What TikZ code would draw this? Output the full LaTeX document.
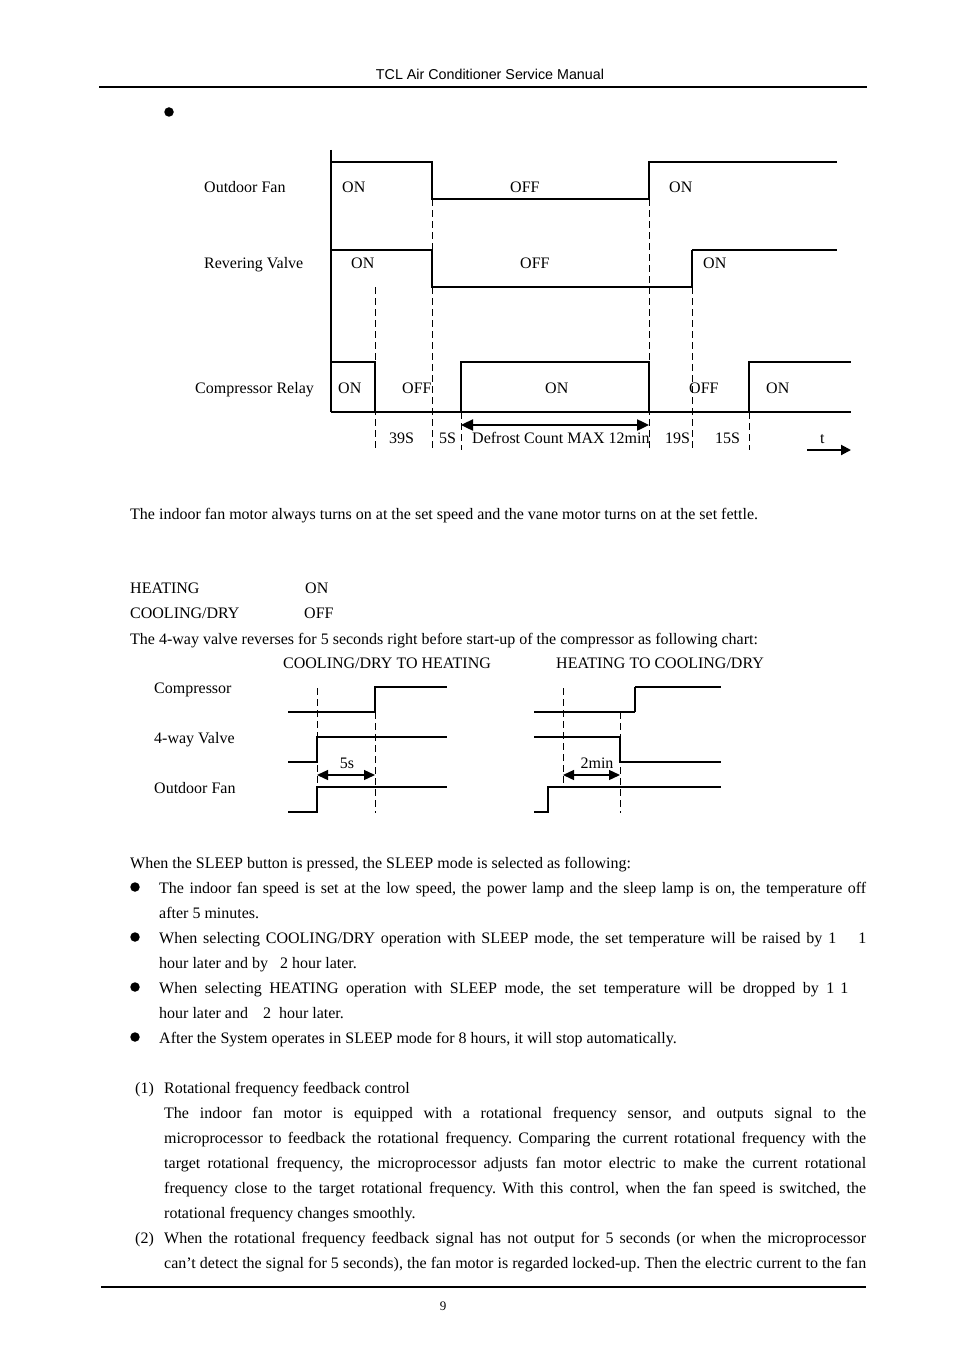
\documentclass[tikz,border=0pt]{standalone}
\usepackage{fontspec}
\setmainfont{Liberation Serif}
\newfontfamily\hdrfont{Liberation Sans}
\usetikzlibrary{arrows.meta}
\frenchspacing
\newcommand\bodyfs{\fontsize{16}{25}\selectfont\frenchspacing}
\tikzset{
  sig/.style={line width=1.1pt},
  sigthick/.style={line width=2pt},
  dsh/.style={line width=0.9pt, dash pattern=on 7pt off 4pt},
  lbl/.style={anchor=base west, inner sep=0pt, font=\bodyfs},
  clbl/.style={anchor=base, inner sep=0pt, font=\bodyfs},
  bigarrow/.style={line width=2.4pt, {Triangle[length=12pt,width=11pt]}-{Triangle[length=12pt,width=11pt]}},
  smallarrow/.style={line width=1.3pt, {Triangle[length=11pt,width=10pt]}-{Triangle[length=11pt,width=10pt]}},
  tarrow/.style={line width=2pt, -{Triangle[length=10pt,width=10pt]}},
  rule/.style={line width=2pt},
  dot/.style={circle, fill=black, inner sep=0pt, minimum size=9.5pt},
}
\begin{document}
\begin{tikzpicture}[x=1pt,y=-1pt]
\fill[white] (0,0) rectangle (954,1351);
\path[use as bounding box] (0,0) rectangle (954,1351);

% header
\node[anchor=base, inner sep=0pt, font=\hdrfont\fontsize{14.3}{16}\selectfont] (hdr) at (490,80) {TCL Air Conditioner Service Manual};
\draw[rule] (99,87) -- (867,87);
\node[dot] (b0) at (169,112) {};

% ===== Diagram 1 =====
\node[lbl] (l1) at (204,193) {Outdoor Fan};
\node[lbl] (l2) at (204,268) {Revering Valve};
\node[lbl] (l3) at (195,393) {Compressor Relay};

% dashed guides
\draw[dsh] (375,287) -- (375,450);
\draw[dsh] (432,199) -- (432,450);
\draw[dsh] (461,412) -- (461,450);
\draw[dsh] (649,199) -- (649,450);
\draw[dsh] (692,287) -- (692,450);
\draw[dsh] (749,412) -- (749,450);

% axis
\draw[sig] (331,150) -- (331,412);
% outdoor fan
\draw[sig] (331,162) -- (432,162) -- (432,199) -- (649,199) -- (649,162) -- (837,162);
% revering valve
\draw[sigthick] (331,250) -- (432,250);
\draw[sig] (432,250) -- (432,287) -- (692,287) -- (692,250);
\draw[sigthick] (692,250) -- (837,250);
% compressor relay
\draw[sig] (331,362) -- (375,362) -- (375,412);
\draw[sig] (331,412) -- (851,412);
\draw[sig] (461,412) -- (461,362) -- (649,362) -- (649,412);
\draw[sig] (749,412) -- (749,362) -- (851,362);

\node[lbl] (f1) at (342,193) {ON};
\node[lbl] (f2) at (510,193) {OFF};
\node[lbl] (f3) at (669,193) {ON};
\node[lbl] (v1) at (351,268) {ON};
\node[lbl] (v2) at (520,268) {OFF};
\node[lbl] (v3) at (703,268) {ON};
\node[lbl] (c1) at (338,393) {ON};
\node[lbl] (c2) at (402,393) {OFF};
\node[lbl] (c3) at (545,393) {ON};
\node[lbl] (c4) at (689,393) {OFF};
\node[lbl] (c5) at (766,393) {ON};

\coordinate (da) at (461,425);
\coordinate (db) at (649,425);
\draw[bigarrow] (da) -- (db);
\node[lbl] (t1) at (389,443) {39S};
\node[lbl] (t2) at (439,443) {5S};
\node[lbl] (t3) at (472,443) {Defrost Count MAX 12min};
\node[lbl] (t4) at (665,443) {19S};
\node[lbl] (t5) at (715,443) {15S};
\node[lbl] (t6) at (820,443) {t};
\coordinate (ta) at (807,450);
\coordinate (tb) at (851,450);
\draw[tarrow] (ta) -- (tb);

% ===== Text =====
\node[lbl] (p1) at (130,519) {The indoor fan motor always turns on at the set speed and the vane motor turns on at the set fettle.};
\node[lbl] (p2) at (130,593) {HEATING};
\node[lbl] (p3) at (305,593) {ON};
\node[lbl] (p4) at (130,618) {COOLING/DRY};
\node[lbl] (p5) at (304,618) {OFF};
\node[lbl] (p6) at (130,644) {The 4-way valve reverses for 5 seconds right before start-up of the compressor as following chart:};

% ===== Diagram 2 =====
\node[lbl] (h1) at (283,668) {COOLING/DRY TO HEATING};
\node[lbl] (h2) at (556,668) {HEATING TO COOLING/DRY};
\node[lbl] (s1) at (154,693) {Compressor};
\node[lbl] (s2) at (154,743) {4-way Valve};
\node[lbl] (s3) at (154,793) {Outdoor Fan};

% left chart
\draw[dsh] (317,688) -- (317,812);
\draw[dsh] (375,712) -- (375,813);
\draw[sig] (288,712) -- (375,712) -- (375,687) -- (447,687);
\draw[sig] (288,762) -- (317,762) -- (317,737) -- (447,737);
\draw[sig] (288,812) -- (317,812) -- (317,787) -- (447,787);
\coordinate (ea) at (317,775);
\coordinate (eb) at (375,775);
\draw[smallarrow] (ea) -- (eb);
\node[clbl] (e5) at (347,768) {5s};

% right chart
\draw[dsh] (563,688) -- (563,787);
\draw[dsh] (620,712) -- (620,813);
\draw[sig] (534,712) -- (635,712);
\draw[sigthick] (635,712) -- (635,687);
\draw[sig] (635,687) -- (721,687);
\draw[sig] (534,737) -- (620,737) -- (620,762) -- (721,762);
\draw[sig] (534,812) -- (548,812) -- (548,787) -- (721,787);
\coordinate (ga) at (563,775);
\coordinate (gb) at (620,775);
\draw[smallarrow] (ga) -- (gb);
\node[clbl] (g2) at (597,768) {2min};

% ===== Sleep =====
\node[lbl] (q0) at (130,868) {When the SLEEP button is pressed, the SLEEP mode is selected as following:};
\node[dot] (qb1) at (135,887) {};
\node[dot] (qb2) at (135,937) {};
\node[dot] (qb3) at (135,987) {};
\node[dot] (qb4) at (135,1037) {};
\node[lbl] (q1) at (159,893) {\makebox[707pt][s]{The indoor fan speed is set at the low speed, the power lamp and the sleep lamp is on, the temperature off}};
\node[lbl] (q2) at (159,918) {after 5 minutes.};
\node[lbl] (q3) at (159,943) {\makebox[707pt][s]{When selecting COOLING/DRY operation with SLEEP mode, the set temperature will be raised by 1\hspace*{22pt}1}};
\node[lbl] (q4) at (159,968) {hour later and by\hspace*{12pt}2 hour later.};
\node[lbl] (q5) at (159,993) {\makebox[689pt][s]{When selecting HEATING operation with SLEEP mode, the set temperature will be dropped by 1\hspace*{6pt}1}};
\node[lbl] (q6) at (159,1018) {hour later and\hspace*{15pt}2\hspace*{8pt}hour later.};
\node[lbl] (q7) at (159,1043) {After the System operates in SLEEP mode for 8 hours, it will stop automatically.};

% ===== Fan motor =====
\node[lbl] (r1n) at (135,1093) {(1)};
\node[lbl] (r1) at (164,1093) {Rotational frequency feedback control};
\node[lbl] (r2) at (164,1118) {\makebox[702pt][s]{The indoor fan motor is equipped with a rotational frequency sensor, and outputs signal to the}};
\node[lbl] (r3) at (164,1143) {\makebox[702pt][s]{microprocessor to feedback the rotational frequency. Comparing the current rotational frequency with the}};
\node[lbl] (r4) at (164,1168) {\makebox[702pt][s]{target rotational frequency, the microprocessor adjusts fan motor electric to make the current rotational}};
\node[lbl] (r5) at (164,1193) {\makebox[702pt][s]{frequency close to the target rotational frequency. With this control, when the fan speed is switched, the}};
\node[lbl] (r6) at (164,1218) {rotational frequency changes smoothly.};
\node[lbl] (r7n) at (135,1243) {(2)};
\node[lbl] (r7) at (164,1243) {\makebox[702pt][s]{When the rotational frequency feedback signal has not output for 5 seconds (or when the microprocessor}};
\node[lbl] (r8) at (164,1268) {\makebox[702pt][s]{can’t detect the signal for 5 seconds), the fan motor is regarded locked-up. Then the electric current to the fan}};

% footer
\draw[rule] (101,1287) -- (866,1287);
\node[anchor=base, inner sep=0pt, font=\fontsize{13}{15}\selectfont] (pg) at (443,1310) {9};
\end{tikzpicture}
\end{document}
